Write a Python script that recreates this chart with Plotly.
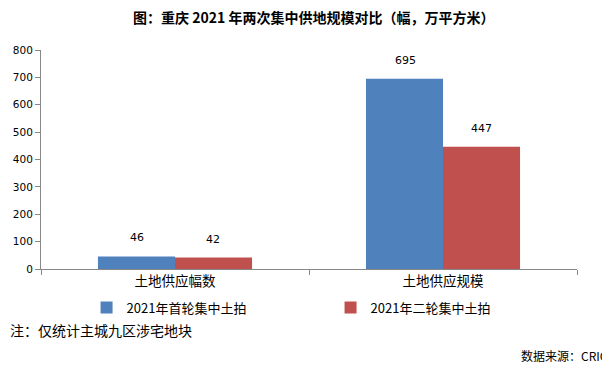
import plotly.graph_objects as go

categories = ["土地供应幅数", "土地供应规模"]
series_names = ["2021年首轮集中土拍", "2021年二轮集中土拍"]
first_round = [46, 695]
second_round = [42, 447]
colors = ["#4F81BD", "#C0504D"]
y_ticks = [0, 100, 200, 300, 400, 500, 600, 700, 800]

cjk = "Noto Sans CJK SC"
fig = go.Figure()
for name, vals, col in zip(series_names, [first_round, second_round], colors):
    fig.add_trace(go.Bar(x=categories, y=vals, name=name, marker=dict(color=col, line=dict(width=0))))

# value labels
for vals, shift in zip([first_round, second_round], [-38, 38]):
    for c, v in zip(categories, vals):
        fig.add_annotation(x=c, y=v, text=str(v), showarrow=False, xshift=shift, yshift=10,
                           yanchor="bottom", font=dict(family="DejaVu Sans", size=11, color="#000"))

fig.add_annotation(xref="paper", yref="paper", x=0.5, y=1, xshift=4, yshift=33, yanchor="middle",
                   text="<b>图：重庆 2021 年两次集中供地规模对比（幅，万平方米）</b>", showarrow=False,
                   font=dict(family=cjk, size=14, color="#000"))
fig.add_annotation(xref="paper", yref="paper", x=0, y=0, xshift=-33, yshift=-61, xanchor="left",
                   yanchor="middle", text="注：仅统计主城九区涉宅地块", showarrow=False,
                   font=dict(family=cjk, size=14, color="#000"))
fig.add_annotation(xref="paper", yref="paper", x=1, y=0, xshift=33, yshift=-86, xanchor="right",
                   yanchor="middle", text="数据来源：CRIC", showarrow=False,
                   font=dict(family=cjk, size=12, color="#000"))

fig.update_layout(
    width=602, height=358,
    margin=dict(l=33, r=33, t=42, b=97, autoexpand=False),
    paper_bgcolor="white", plot_bgcolor="white",
    barmode="group", bargap=0.425, bargroupgap=0,
    showlegend=True,
    legend=dict(orientation="h", x=0.085, xanchor="left", y=-0.108, yanchor="top",
                bgcolor="rgba(0,0,0,0)",
                entrywidth=199, entrywidthmode="pixels", itemwidth=30,
                font=dict(family=cjk, size=13, color="#000")),
    xaxis=dict(showline=True, linecolor="#888", linewidth=1, ticks="outside", tickson="boundaries",
               ticklen=5, tickcolor="#888", automargin=False,
               tickfont=dict(family=cjk, size=13.5, color="#000")),
    yaxis=dict(range=[0, 800], tickvals=y_ticks, showgrid=False, zeroline=False, showline=True,
               linecolor="#888", linewidth=1, ticks="outside", ticklen=5, tickcolor="#888",
               automargin=False, tickfont=dict(family="DejaVu Sans", size=10.5, color="#000")),
)
fig.write_html("out.html")
